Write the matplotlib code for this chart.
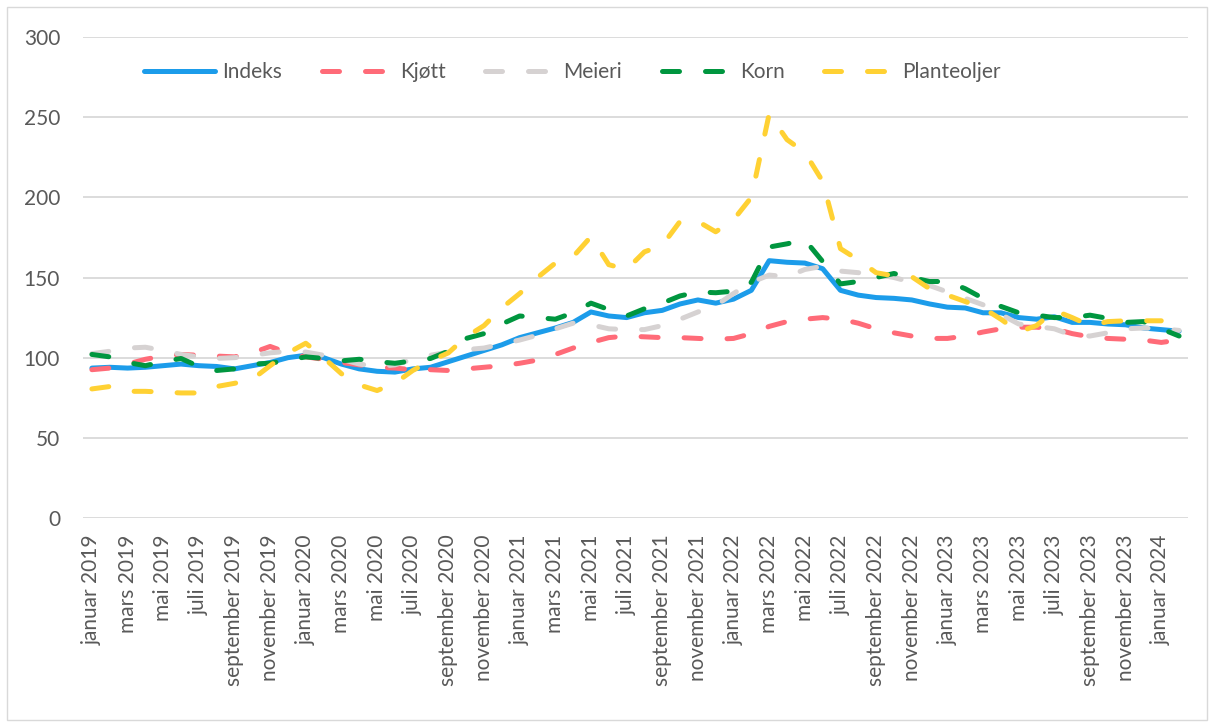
import matplotlib
matplotlib.use("Agg")
import matplotlib.pyplot as plt
from matplotlib.patches import Rectangle
import numpy as np

months_no = ["januar", "februar", "mars", "april", "mai", "juni", "juli",
             "august", "september", "oktober", "november", "desember"]
years = [2019, 2020, 2021, 2022, 2023, 2024]
categories = [f"{m} {y}" for y in years for m in months_no][:62]

indeks = [93.5, 94, 93.5, 94, 95, 96, 95, 94.5, 93, 95, 97, 100, 101.5, 100, 96, 93,
          91.5, 91, 93, 94, 97.5, 101, 104.5, 108, 112.5, 115.5, 118.5, 122, 128.5, 126,
          125, 128, 129.5, 133.5, 136, 134, 136.5, 142, 160.5, 159.5, 159, 155.5, 142, 139,
          137.5, 137, 136, 133.5, 131.5, 131, 128, 128, 125, 124, 125.5, 122, 122, 121,
          120.5, 118.5, 117.5, 116.5]
kjott = [92.5, 93.5, 96, 99, 101, 102, 101.5, 101, 100.5, 103, 107, 103, 100.5, 99, 97, 95.5,
         94, 93.5, 92.5, 92.5, 92, 93, 94, 95, 96.5, 98.5, 102, 106, 109.5, 112.5,
         113.5, 113, 112.5, 112.5, 112, 111.5, 112, 115, 119.5, 122.5, 124, 125, 124, 121.5,
         118, 115.5, 113.5, 112, 112, 113.5, 116, 118, 119, 119, 118, 115, 113, 112,
         111.5, 111, 109.5, 111]
meieri = [102.5, 104, 106, 106.5, 104.5, 102, 100.5, 99.5, 100, 101.5, 103, 104, 103.5, 101.5,
          99, 96, 94.5, 95.5, 99, 101.5, 103.5, 105, 106, 108.5, 111, 114, 118, 121.5, 120.5,
          118, 117.5, 117.5, 120, 124, 128.5, 132.5, 140, 147, 151.5, 150.5, 155, 157, 154,
          153, 152, 150, 147, 145, 141, 137, 133, 127, 121, 119.5, 118, 114, 113.5, 115.5,
          118, 118.5, 118, 117]
korn = [102, 100.5, 97, 95, 97.5, 99.5, 94.5, 92, 93, 96, 96.5, 98.5, 100.5, 99.5, 98, 99,
        97.5, 96.5, 98, 99.5, 104, 112, 115, 121, 126, 125, 124, 128, 134, 130, 126, 130.5,
        134, 138.5, 141, 140.5, 141.5, 147, 169, 171, 173.5, 160, 146, 147.5, 150, 152.5,
        150, 147.5, 147.5, 143, 137, 132, 128, 126.5, 125, 125, 126.5, 124.5, 122, 122.5,
        118, 113.5]
planteoljer = [80.5, 82, 79, 79, 78.5, 78, 78, 82, 84, 86.5, 95, 103, 109, 100, 90, 83, 79.5,
               84, 92, 98, 103, 113, 120, 131, 140, 150, 159, 163, 175.5, 158, 155, 166, 170,
               185, 185, 178.5, 186, 200, 252, 236, 228, 210, 168, 161, 153, 151, 150.5, 143,
               139, 135, 131, 124, 116, 120, 129.5, 125, 120, 122.5, 123, 123, 123]

series = [
    ("Indeks", indeks, "#1C9CEA", "solid"),
    ("Kjøtt", kjott, "#FF6B78", "dash"),
    ("Meieri", meieri, "#D6D2D2", "dash"),
    ("Korn", korn, "#00963F", "dash"),
    ("Planteoljer", planteoljer, "#FFD133", "dash"),
]

plt.rcParams['font.family'] = ['Lato', 'DejaVu Sans']
W, H = 1212, 724
fig = plt.figure(figsize=(W / 100, H / 100), dpi=100)
ax = fig.add_axes([83 / W, 1 - 518 / H, (1188 - 83) / W, (518 - 37) / H])

x = np.arange(len(categories))
lw = 3.6
for i, (name, vals, col, style) in enumerate(series):
    xs = x[:len(vals)]
    if style == "solid":
        ax.plot(xs, vals, color=col, lw=lw, solid_capstyle='round',
                solid_joinstyle='round', label=name, zorder=3 + i)
    else:
        ax.plot(xs, vals, color=col, lw=lw, linestyle=(0, (3.4, 5.2)),
                dash_capstyle='round', dash_joinstyle='round', label=name, zorder=3 + i)

ax.set_ylim(0, 300)
ax.set_yticks(np.arange(0, 301, 50))
ax.set_xlim(-0.5, len(categories) - 0.5)
ax.set_xticks(x[::2])
ax.set_xticklabels(categories[::2], rotation=90)
ax.tick_params(axis='both', length=0, labelsize=15, colors="#595959")
ax.tick_params(axis='x', pad=12)
ax.tick_params(axis='y', pad=16.5)
ax.grid(axis='y', color="#D9D9D9", lw=1.3, zorder=0)
for s in ax.spines.values():
    s.set_visible(False)

leg = ax.legend(loc='center', bbox_to_anchor=(0.443, 0.927), ncol=5, frameon=False,
                fontsize=15, handlelength=3.4, handletextpad=0.35, columnspacing=1.9,
                labelcolor="#595959")

fig.patches.append(Rectangle((7 / W, 4 / H), 1 - 12 / W, 1 - 11 / H, transform=fig.transFigure,
                             fill=False, edgecolor="#D9D9D9", lw=1.0))

fig.savefig("out.png", dpi=100)
